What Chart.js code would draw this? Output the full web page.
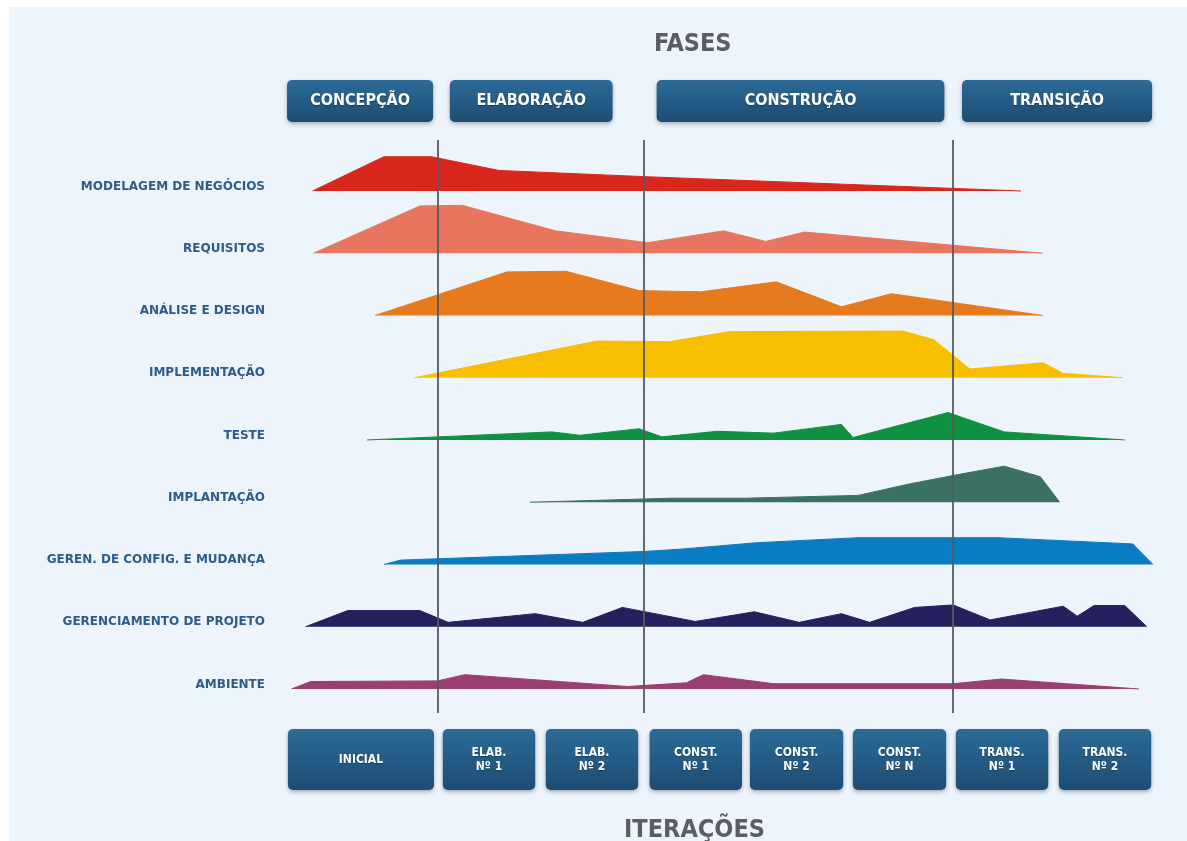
<!DOCTYPE html>
<html>
<head>
<meta charset="utf-8">
<script src="https://cdn.jsdelivr.net/npm/chart.js@4.4.1/dist/chart.umd.min.js"></script>
<style>
  html, body { margin: 0; padding: 0; background: #fff; }
  #wrap { width: 1187px; height: 841px; position: relative; }
</style>
</head>
<body>
<div id="wrap"><canvas id="rup"></canvas></div>
<script>
// disciplinas (linhas) e cores
const activities = [
  "MODELAGEM DE NEGÓCIOS", "REQUISITOS", "ANÁLISE E DESIGN", "IMPLEMENTAÇÃO", "TESTE",
  "IMPLANTAÇÃO", "GEREN. DE CONFIG. E MUDANÇA", "GERENCIAMENTO DE PROJETO", "AMBIENTE",
];
const colors = ["#d9261c", "#e8765f", "#e67a1c", "#f6c000", "#0e9140", "#3b7163", "#0a7cc3", "#26205e", "#9a3e73"];

// esforço ao longo do projeto: [tempo (0-100), esforço]
const modelagemNegocios = [[3.7, 0], [11.8, 5.5], [17.2, 5.5], [24.9, 3.3], [41.5, 2.3], [84.2, 0]];
const requisitos = [[3.8, 0], [15.9, 7.6], [20.7, 7.7], [31.3, 3.6], [41.8, 1.7], [50.4, 3.6], [55.2, 1.9], [59.6, 3.4], [86.7, 0]];
const analiseDesign = [[10.8, 0], [25.8, 7.0], [32.5, 7.1], [40.8, 4.0], [47.8, 3.8], [56.4, 5.4], [63.8, 1.4], [69.5, 3.5], [86.7, 0]];
const implementacao = [[15.3, 0], [36.0, 5.9], [44.3, 5.8], [51.0, 7.4], [70.8, 7.5], [74.3, 6.1], [78.4, 1.4], [86.7, 2.4], [89.0, 0.7], [95.7, 0]];
const teste = [[9.9, 0], [30.9, 1.3], [34.1, 0.75], [40.8, 1.8], [43.4, 0.5], [49.7, 1.4], [56.1, 1.1], [63.8, 2.5], [65.1, 0.4], [75.9, 4.4], [82.3, 1.3], [96.0, 0]];
const implantacao = [[28.4, 0], [44.6, 0.65], [52.9, 0.65], [65.7, 1.1], [71.4, 2.9], [76.5, 4.3], [82.3, 5.8], [86.4, 4.1], [88.6, 0]];
const gerenConfig = [[11.8, 0], [13.7, 0.7], [41.5, 2.1], [45.9, 2.5], [54.2, 3.5], [65.7, 4.3], [81.6, 4.3], [96.9, 3.3], [99.2, 0]];
const gerenProjeto = [[2.9, 0], [7.7, 2.6], [15.9, 2.6], [19.1, 0.7], [29.0, 2.1], [34.4, 0.7], [38.9, 3.1], [47.2, 0.85], [53.9, 2.4], [59.0, 0.7], [63.8, 2.1], [67.0, 0.7], [72.1, 3.1], [76.5, 3.5], [80.7, 1.1], [89.0, 3.3], [90.6, 1.7], [92.5, 3.4], [96.0, 3.4], [98.5, 0]];
const ambiente = [[1.3, 0], [3.5, 1.2], [17.9, 1.3], [21.0, 2.3], [39.5, 0.4], [46.2, 1.0], [48.1, 2.3], [56.1, 0.85], [76.5, 0.85], [82.0, 1.6], [97.6, 0]];
const efforts = [modelagemNegocios, requisitos, analiseDesign, implementacao, teste, implantacao, gerenConfig, gerenProjeto, ambiente];

// fases e iterações (intervalos no eixo de tempo)
const phases = ["CONCEPÇÃO", "ELABORAÇÃO", "CONSTRUÇÃO", "TRANSIÇÃO"];
const phaseSpans = [[0.8, 17.4], [19.3, 37.8], [42.8, 75.5], [77.5, 99.1]];
const phaseDividers = [17.95, 41.4, 76.5];
const iterations = [["INICIAL"], ["ELAB.", "Nº 1"], ["ELAB.", "Nº 2"], ["CONST.", "Nº 1"], ["CONST.", "Nº 2"], ["CONST.", "Nº N"], ["TRANS.", "Nº 1"], ["TRANS.", "Nº 2"]];
const iterationSpans = [[0.9, 17.5], [18.5, 29.0], [30.2, 40.7], [42.0, 52.5], [53.4, 64.0], [65.1, 75.7], [76.8, 87.3], [88.5, 99.0]];

const ROW_GAP = 10;
const LABEL_LIFT = 0.72;
const baseOf = (i) => (activities.length - 1 - i) * ROW_GAP;
const NARROW = '"Liberation Sans Narrow", "DejaVu Sans Condensed", "Open Sans", sans-serif';

const datasets = activities.map((name, i) => ({
  label: name,
  data: efforts[i].map(([t, e]) => ({ x: t, y: baseOf(i) + e })),
  fill: { value: baseOf(i) },
  backgroundColor: colors[i],
  borderColor: colors[i],
  borderWidth: 1,
  pointRadius: 0,
  tension: 0,
}));

function roundBox(ctx, x, y, w, h, r) {
  ctx.beginPath();
  ctx.moveTo(x + r, y);
  ctx.arcTo(x + w, y, x + w, y + h, r);
  ctx.arcTo(x + w, y + h, x, y + h, r);
  ctx.arcTo(x, y + h, x, y, r);
  ctx.arcTo(x, y, x + w, y, r);
  ctx.closePath();
}

function drawBlueBox(ctx, x1, x2, top, h, lines, font, lineH) {
  ctx.save();
  const g = ctx.createLinearGradient(0, top, 0, top + h);
  g.addColorStop(0, "#2c6b98");
  g.addColorStop(1, "#1d4c73");
  ctx.shadowColor = "rgba(20, 40, 60, 0.35)";
  ctx.shadowBlur = 4;
  ctx.shadowOffsetY = 2;
  roundBox(ctx, x1, top, x2 - x1, h, 5);
  ctx.fillStyle = g;
  ctx.fill();
  ctx.shadowColor = "rgba(0, 0, 0, 0.35)";
  ctx.shadowBlur = 1;
  ctx.shadowOffsetY = 1;
  ctx.fillStyle = "#ffffff";
  ctx.font = font;
  ctx.textAlign = "center";
  ctx.textBaseline = "middle";
  const cx = (x1 + x2) / 2;
  const cy = top + h / 2;
  lines.forEach((txt, k) => {
    ctx.fillText(txt, cx, cy + (k - (lines.length - 1) / 2) * lineH);
  });
  ctx.restore();
}

const backdrop = {
  id: "backdrop",
  beforeDraw(chart) {
    const ctx = chart.ctx;
    ctx.save();
    ctx.fillStyle = "#ffffff";
    ctx.fillRect(0, 0, chart.width, chart.height);
    ctx.fillStyle = "#eef4fb";
    ctx.fillRect(9, 7, chart.width - 9, chart.height - 7);
    ctx.restore();
  },
};

const overlay = {
  id: "overlay",
  afterDatasetsDraw(chart) {
    const ctx = chart.ctx;
    const xs = chart.scales.x;
    const area = chart.chartArea;
    ctx.save();
    // divisores de fase
    ctx.strokeStyle = "rgba(85, 90, 96, 0.9)";
    ctx.lineWidth = 2;
    phaseDividers.forEach((t) => {
      const px = Math.round(xs.getPixelForValue(t));
      ctx.beginPath();
      ctx.moveTo(px, area.top);
      ctx.lineTo(px, area.bottom - 2);
      ctx.stroke();
    });
    // fases
    phases.forEach((p, i) => {
      const [a, b] = phaseSpans[i];
      drawBlueBox(ctx, xs.getPixelForValue(a), xs.getPixelForValue(b), 80, 42, [p], "bold 16px " + NARROW, 0);
    });
    // iterações
    iterations.forEach((lines, i) => {
      const [a, b] = iterationSpans[i];
      drawBlueBox(ctx, xs.getPixelForValue(a), xs.getPixelForValue(b), 729, 61, lines, "bold 12px " + NARROW, 14);
    });
    // títulos
    ctx.fillStyle = "#5a5e63";
    ctx.font = "bold 25px " + NARROW;
    ctx.textAlign = "center";
    ctx.textBaseline = "middle";
    ctx.fillText("FASES", xs.getPixelForValue(46.9), 44);
    ctx.fillText("ITERAÇÕES", xs.getPixelForValue(47.1), 830);
    ctx.restore();
  },
};

new Chart(document.getElementById("rup"), {
  type: "line",
  data: { datasets },
  options: {
    responsive: true,
    maintainAspectRatio: false,
    animation: false,
    devicePixelRatio: 1,
    layout: { padding: { top: 140, bottom: 126, left: 0, right: 27 } },
    plugins: { legend: { display: false }, tooltip: { enabled: false } },
    scales: {
      x: { type: "linear", min: 0, max: 100, display: false },
      y: {
        type: "linear",
        min: -4.18,
        max: 88.19,
        grid: { display: false },
        border: { display: false },
        afterBuildTicks: (scale) => {
          scale.ticks = activities.map((_, i) => ({ value: baseOf(i) + LABEL_LIFT }));
        },
        afterFit: (scale) => { scale.width = 280; },
        ticks: {
          padding: 7,
          color: "#2c5c8a",
          font: { family: "DejaVu Sans", weight: "bold", size: 12 },
          callback: (v) => activities[activities.length - 1 - Math.round((v - LABEL_LIFT) / ROW_GAP)],
        },
      },
    },
  },
  plugins: [backdrop, overlay],
});
</script>
</body>
</html>
